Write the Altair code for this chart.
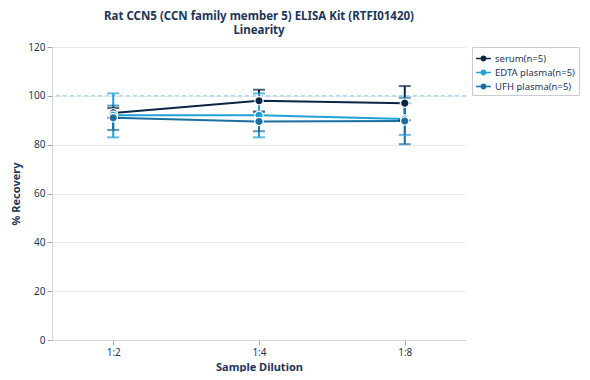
import altair as alt
import pandas as pd

dilutions = ["1:2", "1:4", "1:8"]
series = ["serum(n=5)", "EDTA plasma(n=5)", "UFH plasma(n=5)"]
serum_vals = [93, 98, 97]
serum_err = [2, 4.5, 7]
edta_vals = [92, 92, 90.5]
edta_err = [9, 9, 6.5]
ufh_vals = [91, 89.5, 89.7]
ufh_err = [5, 4, 9.5]
colors = ["#0b2545", "#1fa0d6", "#1a6f9e"]

rows = []
for s, vals, errs in zip(series, [serum_vals, edta_vals, ufh_vals], [serum_err, edta_err, ufh_err]):
    for d, v, e in zip(dilutions, vals, errs):
        rows.append({"dilution": d, "series": s, "value": v, "lo": v - e, "hi": v + e})
df = pd.DataFrame(rows)

axis_color = "#1d3557"
x = alt.X("dilution:N", sort=dilutions, title="Sample Dilution",
          scale=alt.Scale(type="point", padding=0.42),
          axis=alt.Axis(labelAngle=0, grid=False, labelColor=axis_color, titleColor=axis_color,
                        domainColor="#d0d7df", tickColor="#9aa5b1", labelFontSize=10,
                        titleFontSize=11, titleFontWeight="bold", labelFont="Noto Sans",
                        titleFont="Noto Sans", titlePadding=4))
y_scale = alt.Scale(domain=[0, 120])
color = alt.Color("series:N", sort=series, scale=alt.Scale(domain=series, range=colors),
                  legend=alt.Legend(title=None, orient="right", strokeColor="#cccccc",
                                    padding=4, labelFontSize=9.5, labelFont="Noto Sans",
                                    labelColor="#1d3557", offset=6, rowPadding=2,
                                    symbolSize=220,
                                    symbolType="M -1 -0.1 L 1 -0.1 L 1 0.1 L -1 0.1 Z M 0.4 0 A 0.4 0.4 0 1 1 -0.4 0 A 0.4 0.4 0 1 1 0.4 0 Z",
                                    symbolStrokeWidth=0))

base = alt.Chart(df)

lines = base.mark_line(strokeWidth=2).encode(
    x=x,
    y=alt.Y("value:Q", scale=y_scale, title="% Recovery",
            axis=alt.Axis(values=[0, 20, 40, 60, 80, 100, 120], gridColor="#e6e9ed",
                          domainColor="#d0d7df", tickColor="#9aa5b1", labelColor=axis_color,
                          titleColor=axis_color, labelFontSize=10, titleFontSize=11,
                          titleFontWeight="bold", labelFont="Noto Sans", titleFont="Noto Sans",
                          titlePadding=6)),
    color=color,
)

rules = base.mark_rule(strokeWidth=2).encode(
    x=x, y=alt.Y("lo:Q", scale=y_scale), y2="hi:Q",
    color=alt.Color("series:N", sort=series, scale=alt.Scale(domain=series, range=colors), legend=None),
)
caps_lo = base.mark_tick(thickness=2, size=12, orient="horizontal").encode(
    x=x, y=alt.Y("lo:Q", scale=y_scale),
    color=alt.Color("series:N", sort=series, scale=alt.Scale(domain=series, range=colors), legend=None),
)
caps_hi = base.mark_tick(thickness=2, size=12, orient="horizontal").encode(
    x=x, y=alt.Y("hi:Q", scale=y_scale),
    color=alt.Color("series:N", sort=series, scale=alt.Scale(domain=series, range=colors), legend=None),
)
points = base.mark_point(filled=True, size=70, opacity=1, stroke="white", strokeWidth=1.2).encode(
    x=x, y=alt.Y("value:Q", scale=y_scale),
    fill=alt.Fill("series:N", sort=series, scale=alt.Scale(domain=series, range=colors), legend=None),
)

ref = alt.Chart(pd.DataFrame({"ref": [100]})).mark_rule(
    strokeDash=[4, 3], color="#8fc7e0", strokeWidth=1
).encode(y=alt.Y("ref:Q", scale=y_scale))

chart = alt.layer(ref, lines, rules, caps_lo, caps_hi, points).properties(
    width=574, height=364,
    padding={"left": 2, "top": 2, "right": 2, "bottom": 0},
    autosize=alt.AutoSizeParams(type="fit", contains="padding"),
    title=alt.Title(["Rat CCN5 (CCN family member 5) ELISA Kit (RTFI01420)", "Linearity"],
                    fontSize=11.5, font="Noto Sans", fontWeight="bold", color=axis_color,
                    anchor="middle", offset=6, lineHeight=14),
).configure_view(stroke=None)

chart.save("out.html", embed_options={"renderer": "svg", "actions": False})
